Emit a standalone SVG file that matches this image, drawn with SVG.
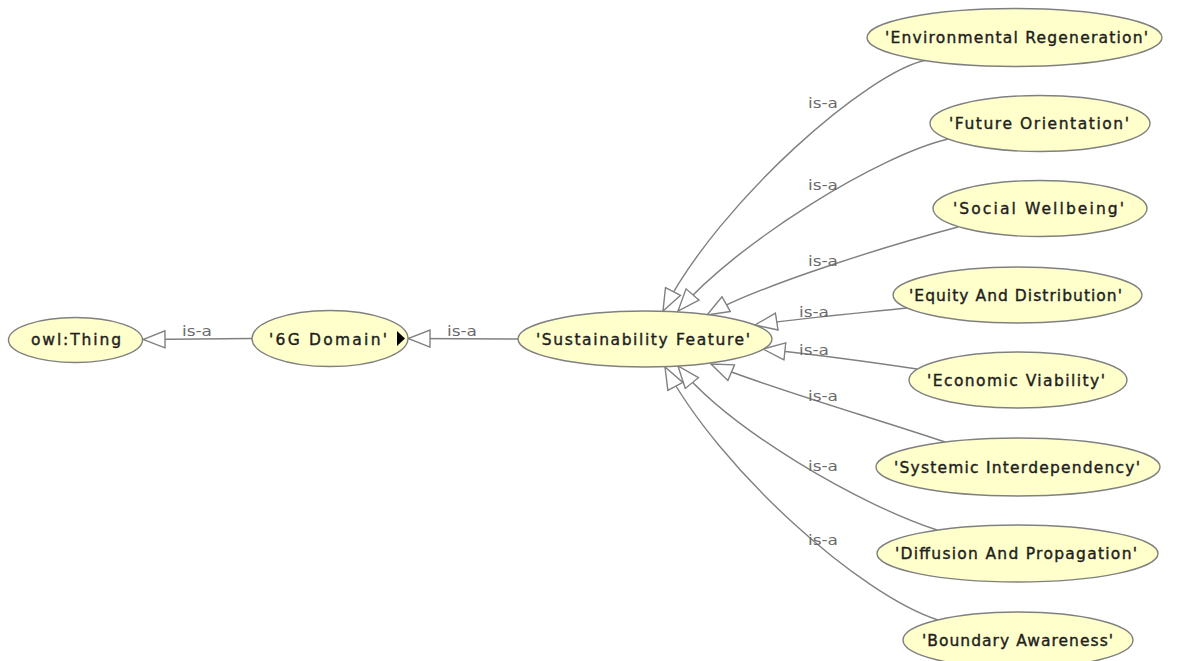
<svg xmlns="http://www.w3.org/2000/svg" width="1194" height="661" viewBox="0 0 1194 661">
<style>
.node ellipse{fill:#ffffcc;stroke:#808080;stroke-width:1.4}
.node text{font-family:"DejaVu Sans","Liberation Sans",sans-serif;font-size:15.5px;fill:#1e1e1e;stroke:#1e1e1e;stroke-width:0.4;text-anchor:middle}
.edge{fill:none;stroke:#808080;stroke-width:1.4;marker-end:url(#tri)}
.lbl{font-family:"DejaVu Sans","Liberation Sans",sans-serif;font-size:14px;fill:#6a6a6a}
</style>
<defs>
<marker id="tri" viewBox="0 0 24 20" refX="23" refY="10" markerWidth="24" markerHeight="20" markerUnits="userSpaceOnUse" orient="auto">
<path d="M1,1.5 L23,10 L1,18.5 Z" fill="#ffffff" stroke="#808080" stroke-width="1.4"/>
</marker>
</defs>
<rect width="1194" height="661" fill="#ffffff"/>
<g id="connectors">
<path class="edge" d="M252,338.5 L143,339.5"/>
<path class="edge" d="M518,339 L408,338.5"/>
<path class="edge" d="M927,60 C870,70 720,200 663,311"/>
<path class="edge" d="M948,139 C880,155 740,240 678,311"/>
<path class="edge" d="M958,227 C890,245 760,285 707,315"/>
<path class="edge" d="M907,308 C860,313 800,318 755,325"/>
<path class="edge" d="M917,369 C870,362 810,354 763,349"/>
<path class="edge" d="M945,442 C880,420 760,385 711,364"/>
<path class="edge" d="M937,530 C860,505 730,430 678,366"/>
<path class="edge" d="M938,620 C860,595 720,470 665,367"/>
<text class="lbl" x="182" y="336" textLength="30" lengthAdjust="spacingAndGlyphs">is-a</text>
<text class="lbl" x="447" y="336" textLength="30" lengthAdjust="spacingAndGlyphs">is-a</text>
<text class="lbl" x="808" y="108" textLength="30" lengthAdjust="spacingAndGlyphs">is-a</text>
<text class="lbl" x="808" y="190" textLength="30" lengthAdjust="spacingAndGlyphs">is-a</text>
<text class="lbl" x="808" y="266" textLength="30" lengthAdjust="spacingAndGlyphs">is-a</text>
<text class="lbl" x="799" y="317" textLength="30" lengthAdjust="spacingAndGlyphs">is-a</text>
<text class="lbl" x="799" y="355" textLength="30" lengthAdjust="spacingAndGlyphs">is-a</text>
<text class="lbl" x="808" y="401" textLength="30" lengthAdjust="spacingAndGlyphs">is-a</text>
<text class="lbl" x="808" y="471" textLength="30" lengthAdjust="spacingAndGlyphs">is-a</text>
<text class="lbl" x="808" y="545" textLength="30" lengthAdjust="spacingAndGlyphs">is-a</text>
</g>
<g id="owl-thing" class="node"><ellipse cx="75.5" cy="340" rx="67" ry="22.5"/><text x="76" y="345" textLength="90" lengthAdjust="spacing">owl:Thing</text></g>
<g id="domain-6g" class="node"><ellipse cx="330" cy="338.5" rx="78" ry="28"/><text x="328" y="344.5" textLength="118" lengthAdjust="spacing">'6G Domain'</text><polygon points="397,331 397,346 405,338.5" fill="#000000"/></g>
<g id="sustainability-feature" class="node"><ellipse cx="645" cy="339" rx="127" ry="28"/><text x="643" y="344.5" textLength="214" lengthAdjust="spacing">'Sustainability Feature'</text></g>
<g id="environmental-regeneration" class="node"><ellipse cx="1014.5" cy="37.5" rx="147.5" ry="29"/><text x="1016.5" y="43" textLength="263" lengthAdjust="spacing">'Environmental Regeneration'</text></g>
<g id="future-orientation" class="node"><ellipse cx="1040" cy="123.5" rx="110" ry="28"/><text x="1039" y="129" textLength="180" lengthAdjust="spacing">'Future Orientation'</text></g>
<g id="social-wellbeing" class="node"><ellipse cx="1040" cy="208.5" rx="107" ry="28"/><text x="1038.5" y="214" textLength="171" lengthAdjust="spacing">'Social Wellbeing'</text></g>
<g id="equity-and-distribution" class="node"><ellipse cx="1017.5" cy="295" rx="124.5" ry="28"/><text x="1015.5" y="300.5" textLength="213" lengthAdjust="spacing">'Equity And Distribution'</text></g>
<g id="economic-viability" class="node"><ellipse cx="1018" cy="380" rx="109" ry="28"/><text x="1016" y="385.5" textLength="178" lengthAdjust="spacing">'Economic Viability'</text></g>
<g id="systemic-interdependency" class="node"><ellipse cx="1018" cy="467" rx="142" ry="29"/><text x="1017" y="472.5" textLength="246" lengthAdjust="spacing">'Systemic Interdependency'</text></g>
<g id="diffusion-and-propagation" class="node"><ellipse cx="1017.5" cy="553.5" rx="140.5" ry="28.5"/><text x="1016" y="559" textLength="242" lengthAdjust="spacing">'Diffusion And Propagation'</text></g>
<g id="boundary-awareness" class="node"><ellipse cx="1018" cy="640" rx="115" ry="28"/><text x="1017.5" y="645.5" textLength="191" lengthAdjust="spacing">'Boundary Awareness'</text></g>
</svg>
